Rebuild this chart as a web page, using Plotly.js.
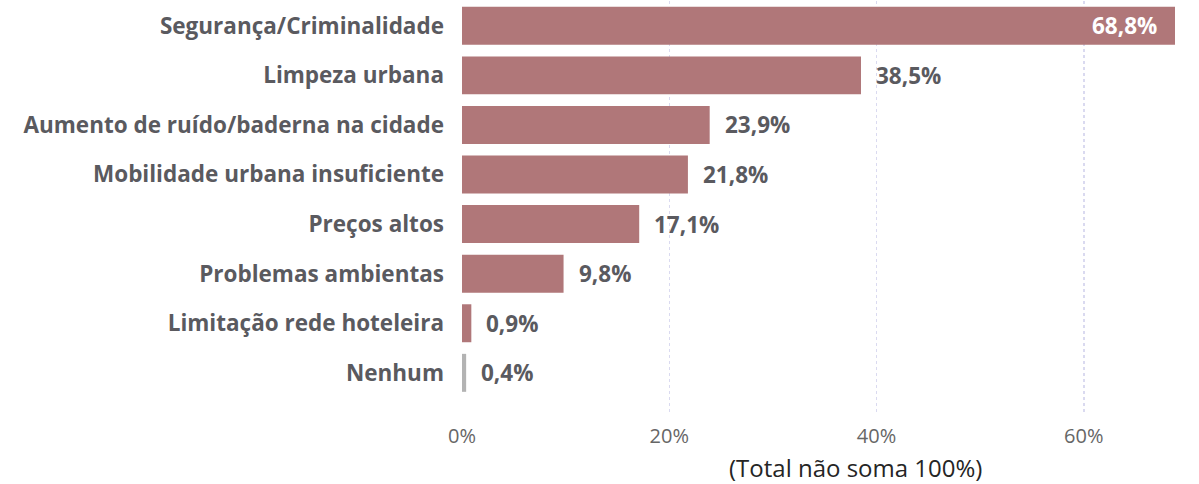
<!DOCTYPE html>
<html>
<head>
<meta charset="utf-8">
<script src="https://cdn.plot.ly/plotly-3.0.1.min.js"></script>
<style>html,body{margin:0;padding:0;background:#fff;}#chart{width:1199px;height:484px;}</style>
</head>
<body>
<div id="chart"></div>
<script>
const categories = ["Segurança/Criminalidade","Limpeza urbana","Aumento de ruído/baderna na cidade","Mobilidade urbana insuficiente","Preços altos","Problemas ambientas","Limitação rede hoteleira","Nenhum"];
const values = [68.8, 38.5, 23.9, 21.8, 17.1, 9.8, 0.9, 0.4];
const barColors = ["#b07779","#b07779","#b07779","#b07779","#b07779","#b07779","#b07779","#b3b3b3"];
const tickValues = [0, 20, 40, 60];
const tickLabels = ["0%", "20%", "40%", "60%"];
const noteText = "(Total não soma 100%)";

const fmt = v => v.toFixed(1).replace('.', ',') + '%';

const annotations = values.map((v, i) => {
  const inside = i === 0;
  return {
    x: v, y: categories[i], xref: 'x', yref: 'y',
    text: '<b>' + fmt(v) + '</b>', showarrow: false,
    xanchor: inside ? 'right' : 'left',
    xshift: inside ? -16 : 13,
    font: {family: 'Open Sans, sans-serif', size: 22.5, color: inside ? '#ffffff' : '#5a5a5f'}
  };
});
annotations.push({
  xref: 'paper', yref: 'paper', x: 0.552, y: -0.134, xanchor: 'center', yanchor: 'middle',
  text: noteText, showarrow: false, borderpad: 0,
  font: {family: 'Open Sans, sans-serif', size: 24, color: '#252525'}
});

const trace = {
  type: 'bar', orientation: 'h',
  x: values, y: categories,
  marker: {color: barColors},
  hoverinfo: 'none'
};

const layout = {
  width: 1199, height: 484,
  margin: {l: 462, r: 24, t: 1, b: 72, pad: 0},
  paper_bgcolor: '#ffffff', plot_bgcolor: '#ffffff',
  bargap: 0.234,
  showlegend: false,
  xaxis: {
    range: [0, 68.8], tickvals: tickValues, ticktext: tickLabels,
    showgrid: true, gridcolor: '#dadaf0', griddash: 'dot', gridwidth: 1.5,
    zeroline: false, showline: false, ticks: '',
    ticklabelstandoff: 10,
    tickfont: {family: 'Open Sans, sans-serif', size: 20, color: '#666666'},
    fixedrange: true
  },
  yaxis: {
    type: 'category', range: [7.79, -0.5],
    showgrid: false, zeroline: false, showline: false, ticks: '',
    ticklabelstandoff: 17,
    tickfont: {family: 'Open Sans, sans-serif', size: 22.5, color: '#5a5a5f', weight: 'bold'},
    fixedrange: true
  },
  annotations: annotations
};

Plotly.newPlot('chart', [trace], layout, {displayModeBar: false, staticPlot: true});
</script>
</body>
</html>
